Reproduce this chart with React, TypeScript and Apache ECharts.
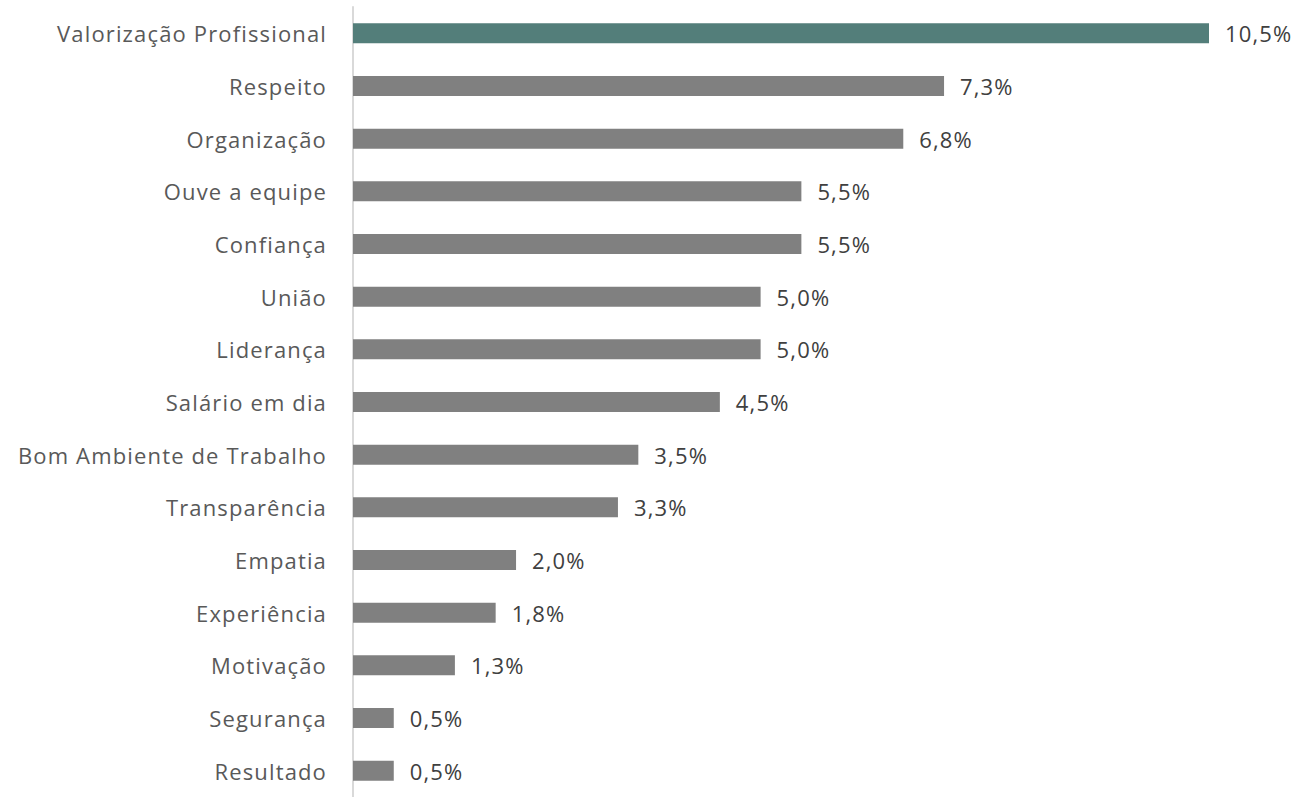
import React, { useEffect, useRef } from "react";
import * as echarts from "echarts";

const categories = [
  "Valorização Profissional",
  "Respeito",
  "Organização",
  "Ouve a equipe",
  "Confiança",
  "União",
  "Liderança",
  "Salário em dia",
  "Bom Ambiente de Trabalho",
  "Transparência",
  "Empatia",
  "Experiência",
  "Motivação",
  "Segurança",
  "Resultado",
];

const values = [10.5, 7.25, 6.75, 5.5, 5.5, 5.0, 5.0, 4.5, 3.5, 3.25, 2.0, 1.75, 1.25, 0.5, 0.5];

const highlightColor = "#537e7a";
const barColor = "#808080";

export default function App() {
  const ref = useRef<HTMLDivElement>(null);
  useEffect(() => {
    document.body.style.margin = "0";
    const chart = echarts.init(ref.current!, null, { renderer: "svg" });
    const font = "'Open Sans', sans-serif";
    chart.setOption({
      animation: false,
      grid: { left: 353, right: 92, top: 7, height: 796, containLabel: false },
      xAxis: {
        type: "value",
        min: 0,
        max: 10.5,
        show: false,
      },
      yAxis: {
        type: "category",
        data: categories,
        inverse: true,
        axisLine: { show: true, lineStyle: { color: "#d9d9d9", width: 2 } },
        axisTick: { show: false },
        axisLabel: {
          color: "#595959",
          fontSize: 22,
          fontFamily: font,
          margin: 26,
        },
        splitLine: { show: false },
      },
      series: [
        {
          type: "bar",
          data: values.map((v, i) => ({
            value: v,
            itemStyle: { color: i === 0 ? highlightColor : barColor },
          })),
          barWidth: 20,
          label: {
            show: true,
            position: "right",
            distance: 16,
            color: "#404040",
            fontSize: 22,
            fontFamily: font,
            formatter: (p: any) => Number(p.value).toFixed(1).replace(".", ",") + "%",
          },
        },
      ],
    });
    return () => chart.dispose();
  }, []);
  return (
    <>
      <style>{`.chart-root svg text { letter-spacing: 1.15px; }`}</style>
      <div
        ref={ref}
        className="chart-root"
        style={{ position: "absolute", left: 0, top: 0, width: 1301, height: 797 }}
      />
    </>
  );
}
